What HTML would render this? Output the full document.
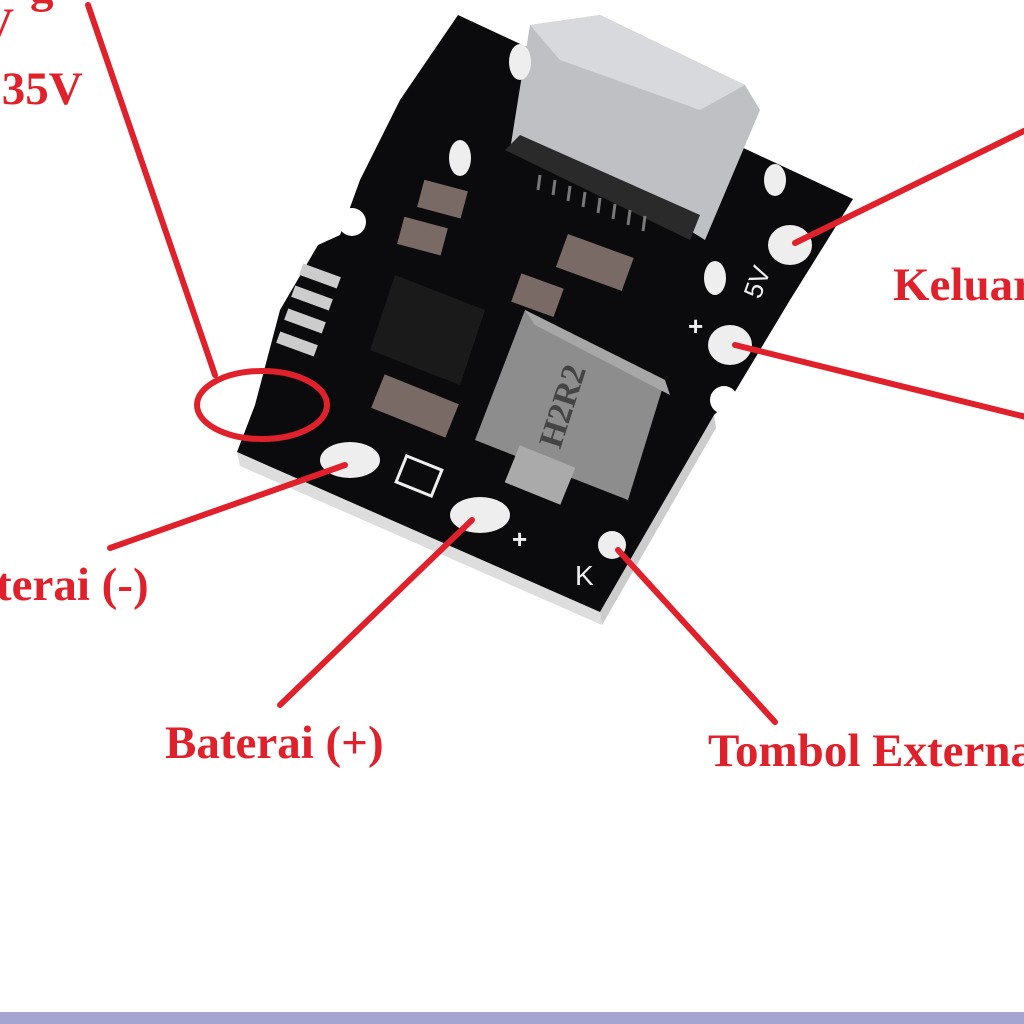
<!DOCTYPE html>
<html><head><style>
html,body{margin:0;padding:0;background:#fff;width:1024px;height:1024px;overflow:hidden}
svg{display:block}
text{font-family:"Liberation Serif",serif;font-weight:bold;fill:#e0202a}
</style></head><body>
<svg width="1024" height="1024" viewBox="0 0 1024 1024">
<rect x="0" y="0" width="1024" height="1024" fill="#fff"/>
<rect x="0" y="1012" width="1024" height="12" fill="#a5a5d2"/>
<polygon points="237,452 600,612 602,625 240,466" fill="#ddd"/>
<polygon points="600,612 714,415 716,428 602,625" fill="#ccc"/>
<path d="M458,15 L853,199 L790,300 L730,400 L714,415 L600,612 L237,452 L255,405 L280,310 L318,245 L340,235 L360,180 L400,100 Z" fill="#0b0b0d"/>
<circle cx="352" cy="222" r="14" fill="#fff"/>
<circle cx="724" cy="400" r="14" fill="#fff"/>
<polygon points="530,25 600,15 745,85 760,110 705,240 665,215 580,180 510,150" fill="#bfc0c4"/>
<polygon points="530,25 600,15 745,85 700,110 560,60" fill="#d8d9dc"/>
<polygon points="505,150 520,135 700,215 690,240" fill="#2a2a2a"/>
<g stroke="#777" stroke-width="3">
<line x1="540" y1="175" x2="538" y2="190"/><line x1="555" y1="180" x2="553" y2="195"/><line x1="570" y1="186" x2="568" y2="201"/><line x1="585" y1="192" x2="583" y2="207"/><line x1="600" y1="198" x2="598" y2="213"/><line x1="615" y1="204" x2="613" y2="219"/><line x1="630" y1="210" x2="628" y2="225"/><line x1="645" y1="216" x2="643" y2="231"/>
</g>
<ellipse cx="520" cy="62" rx="11" ry="18" fill="#eee"/>
<ellipse cx="460" cy="158" rx="11" ry="18" fill="#eee"/>
<ellipse cx="775" cy="180" rx="11" ry="16" fill="#eee"/>
<ellipse cx="715" cy="278" rx="11" ry="17" fill="#eee"/>
<ellipse cx="790" cy="245" rx="22" ry="20" fill="#eee"/>
<ellipse cx="730" cy="345" rx="22" ry="20" fill="#eee"/>
<ellipse cx="350" cy="460" rx="30" ry="18" fill="#eee"/>
<ellipse cx="480" cy="515" rx="30" ry="18" fill="#eee"/>
<circle cx="612" cy="545" r="14" fill="#eee"/>
<rect x="400" y="462" width="38" height="28" fill="none" stroke="#eee" stroke-width="3" transform="rotate(22 419 476)"/>
<polygon points="395,275 485,310 460,385 370,350" fill="#1a1a1a"/>
<polygon points="525,310 665,380 628,500 475,440" fill="#8e8d8d"/>
<polygon points="525,310 665,380 670,395 535,325" fill="#a8a7a7"/>
<text x="0" y="0" font-size="34" style="fill:#444" transform="translate(560,450) rotate(-72)">H2R2</text>
<rect x="510" y="455" width="60" height="40" fill="#aaa" transform="rotate(22 540 475)"/>
<g fill="#7a6a66">
<rect x="420" y="185" width="45" height="28" transform="rotate(15 442 199)"/>
<rect x="400" y="222" width="45" height="28" transform="rotate(15 422 236)"/>
<rect x="560" y="245" width="70" height="35" transform="rotate(20 595 262)"/>
<rect x="515" y="280" width="45" height="30" transform="rotate(20 537 295)"/>
<rect x="375" y="388" width="80" height="36" transform="rotate(22 415 406)"/>
</g>
<g fill="#ccc"><rect x="300" y="270" width="40" height="12" transform="rotate(20 320 276)"/><rect x="292" y="292" width="40" height="12" transform="rotate(20 312 298)"/><rect x="285" y="315" width="40" height="12" transform="rotate(20 305 321)"/><rect x="277" y="338" width="40" height="12" transform="rotate(20 297 344)"/></g>
<text x="0" y="0" font-size="26" style="fill:#eee;font-family:'Liberation Sans',sans-serif;font-weight:normal" transform="translate(760,300) rotate(-70)">5V</text>
<text x="688" y="335" font-size="26" style="fill:#eee;font-family:'Liberation Sans',sans-serif">+</text>
<text x="512" y="548" font-size="26" style="fill:#eee;font-family:'Liberation Sans',sans-serif">+</text>
<text x="575" y="585" font-size="28" style="fill:#eee;font-family:'Liberation Sans',sans-serif;font-weight:normal">K</text>
<g stroke="#e0202a" stroke-width="6" stroke-linecap="round" fill="none">
<line x1="88" y1="5" x2="215" y2="375"/>
<ellipse cx="262" cy="405" rx="65" ry="34"/>
<line x1="110" y1="548" x2="345" y2="465"/>
<line x1="280" y1="705" x2="472" y2="520"/>
<line x1="775" y1="722" x2="618" y2="550"/>
<line x1="795" y1="243" x2="1030" y2="128"/>
<line x1="735" y1="345" x2="1030" y2="418"/>
</g>
<text x="893" y="300" font-size="47">Keluar</text>
<text x="-4" y="600" font-size="47">terai (-)</text>
<text x="165" y="758" font-size="47">Baterai (+)</text>
<text x="708" y="766" font-size="47">Tombol Externa</text>
<text x="-10" y="104" font-size="47">.35V</text>
<text x="-20" y="40" font-size="47">V</text>
<text x="30" y="2" font-size="47">g</text>
</svg>
</body></html>
